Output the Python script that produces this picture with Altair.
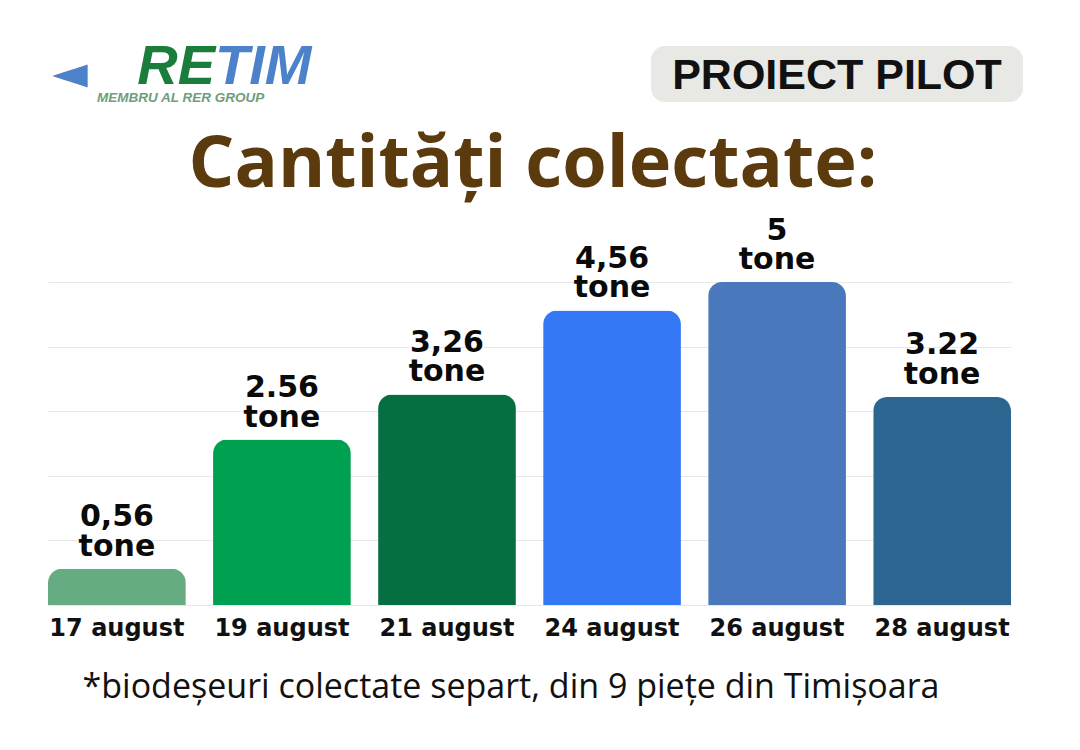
import altair as alt
import pandas as pd

dates = ["17 august", "19 august", "21 august", "24 august", "26 august", "28 august"]
values = [0.56, 2.56, 3.26, 4.56, 5.0, 3.22]
value_labels = ["0,56", "2.56", "3,26", "4,56", "5", "3.22"]
unit_labels = ["tone"] * 6
colors = ["#66AB82", "#00A051", "#066F42", "#3578F6", "#4A78BC", "#2C6690"]
grid_values = [0, 1, 2, 3, 4, 5]

title_text = "Cantități colectate:"
badge_text = "PROIECT PILOT"
footnote_text = "*biodeșeuri colectate separt, din 9 piețe din Timișoara"

df = pd.DataFrame({
    "date": dates,
    "value": values,
    "color": colors,
    "text": [f"{v}\n{u}" for v, u in zip(value_labels, unit_labels)],
})

x = alt.X("date:N", sort=dates, title=None,
          scale=alt.Scale(paddingInner=0.165, paddingOuter=0),
          axis=alt.Axis(labelAngle=0, labelFont="DejaVu Sans", labelFontSize=24,
                        labelFontWeight="bold", labelColor="#111111", labelPadding=11,
                        domain=False, ticks=False, grid=False))
y = alt.Y("value:Q", title=None, scale=alt.Scale(domain=[0, 5], nice=False),
          axis=alt.Axis(values=grid_values, grid=True, gridColor="#E8E8E8", gridWidth=1,
                        labels=False, ticks=False, domain=False))

base = alt.Chart(df)

bars = base.mark_bar(cornerRadiusTopLeft=14, cornerRadiusTopRight=14).encode(
    x=x, y=y, color=alt.Color("color:N", scale=None)
)

value_text = base.mark_text(font="DejaVu Sans", fontSize=30, fontWeight="bold",
                            baseline="alphabetic", lineBreak="\n", lineHeight=29.5,
                            dy=-42.5, color="#0a0a0a").encode(
    x=alt.X("date:N", sort=dates), y="value:Q", text="text:N")

title = alt.Chart(pd.DataFrame({"t": [title_text]})).mark_text(
    font="Open Sans", fontSize=72, fontWeight="bold", color="#5B3B0E",
    align="center", baseline="alphabetic").encode(
    x=alt.value(485), y=alt.value(-95), text="t:N")

badge_box = alt.Chart(pd.DataFrame({"t": [badge_text]})).mark_rect(
    color="#E8E8E5", cornerRadius=14).encode(
    x=alt.value(603), x2=alt.value(975), y=alt.value(-236), y2=alt.value(-180))
badge = alt.Chart(pd.DataFrame({"t": [badge_text]})).mark_text(
    font="Liberation Sans", fontSize=43, fontWeight="bold", color="#111111",
    align="center", baseline="alphabetic").encode(
    x=alt.value(789), y=alt.value(-193), text="t:N")

logo_re = alt.Chart(pd.DataFrame({"t": ["RE"]})).mark_text(
    font="Liberation Sans", fontSize=56, fontWeight="bold", fontStyle="italic",
    color="#1B7D3C", align="right", baseline="alphabetic").encode(
    x=alt.value(167), y=alt.value(-198), text="t:N")
logo_tim = alt.Chart(pd.DataFrame({"t": ["TIM"]})).mark_text(
    font="Liberation Sans", fontSize=56, fontWeight="bold", fontStyle="italic",
    color="#4C82C9", align="left", baseline="alphabetic").encode(
    x=alt.value(167), y=alt.value(-198), text="t:N")
logo_mark = alt.Chart(pd.DataFrame({"t": ["◄"]})).mark_text(
    font="DejaVu Sans", fontSize=46, color="#4C82C9",
    align="center", baseline="alphabetic").encode(
    x=alt.value(22), y=alt.value(-194), text="t:N")
logo_sub = alt.Chart(pd.DataFrame({"t": ["MEMBRU AL RER GROUP"]})).mark_text(
    font="Liberation Sans", fontSize=13.5, fontWeight="bold", fontStyle="italic",
    color="#6E9E7E", align="left", baseline="alphabetic").encode(
    x=alt.value(49), y=alt.value(-180), text="t:N")

footnote = alt.Chart(pd.DataFrame({"t": [footnote_text]})).mark_text(
    font="Open Sans", fontSize=34, color="#111111", align="center",
    baseline="alphabetic").encode(
    x=alt.value(463), y=alt.value(416), text="t:N")

chart = alt.layer(
    bars, value_text, title, badge_box, badge,
    logo_mark, logo_re, logo_tim, logo_sub, footnote
).properties(
    width=963, height=323,
    padding={"left": 40, "top": 274, "right": 61, "bottom": 137},
    autosize=alt.AutoSizeParams(type="none"),
    background="white",
).configure_view(stroke=None)

chart.save("out.html", embed_options={"renderer": "svg", "actions": False})
